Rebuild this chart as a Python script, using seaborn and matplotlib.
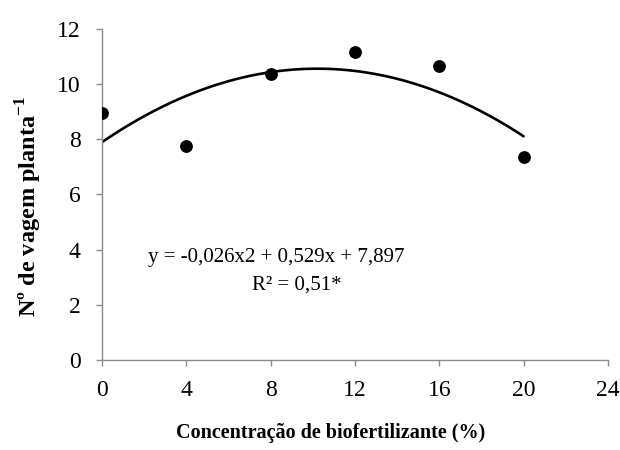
import matplotlib
matplotlib.use("Agg")
import matplotlib.pyplot as plt
import seaborn as sns
import pandas as pd

concentracao = [0, 4, 8, 12, 16, 20]
vagens = [8.95, 7.75, 10.35, 11.15, 10.65, 7.35]
x_ticks = [0, 4, 8, 12, 16, 20, 24]
y_ticks = [0, 2, 4, 6, 8, 10, 12]
equacao = "y = -0,026x2 + 0,529x + 7,897"
r2 = "R² = 0,51*"

df = pd.DataFrame({"x": concentracao, "y": vagens})

sns.set_theme(style="ticks")
plt.rcParams["font.family"] = ["Liberation Serif", "DejaVu Serif"]
plt.rcParams["mathtext.fontset"] = "custom"
plt.rcParams["mathtext.bf"] = "Liberation Serif:bold"
plt.rcParams["mathtext.rm"] = "Liberation Serif"

fig = plt.figure(figsize=(6.2, 4.5), dpi=100)
ax = fig.add_axes([0.1645, 0.2, 0.816, 0.7356])

sns.regplot(data=df, x="x", y="y", order=2, ci=None, truncate=True, ax=ax,
            scatter_kws=dict(s=85, color="black", edgecolor="black", linewidths=0,
                             alpha=1, zorder=3),
            line_kws=dict(color="black", lw=1.9, zorder=2))

ax.set_xlim(0, 24)
ax.set_ylim(0, 12)
ax.set_xticks(x_ticks)
ax.set_yticks(y_ticks)
ax.tick_params(axis="both", direction="out", length=4.5, width=1, color="#8c8c8c",
               labelsize=17, labelcolor="black")
ax.tick_params(axis="x", pad=10)
ax.tick_params(axis="y", pad=11)
for side in ["top", "right"]:
    ax.spines[side].set_visible(False)
for side in ["left", "bottom"]:
    ax.spines[side].set_color("#8c8c8c")
    ax.spines[side].set_linewidth(1)

ax.set_xlabel("Concentração de biofertilizante (%)", fontsize=14.5, fontweight="bold",
              color="black")
ax.set_ylabel("Nº de vagem planta$^{\\mathbf{-1}}$", fontsize=17.5, fontweight="bold",
              color="black")
ax.xaxis.set_label_coords(0.4526, -0.19)
ax.yaxis.set_label_coords(-0.115, 0.465)

ax.text(2.18, 3.73, equacao, ha="left", va="center", fontsize=15, color="black")
ax.text(7.11, 2.72, r2, ha="left", va="center", fontsize=15, color="black")

fig.savefig("out.png", dpi=100)
